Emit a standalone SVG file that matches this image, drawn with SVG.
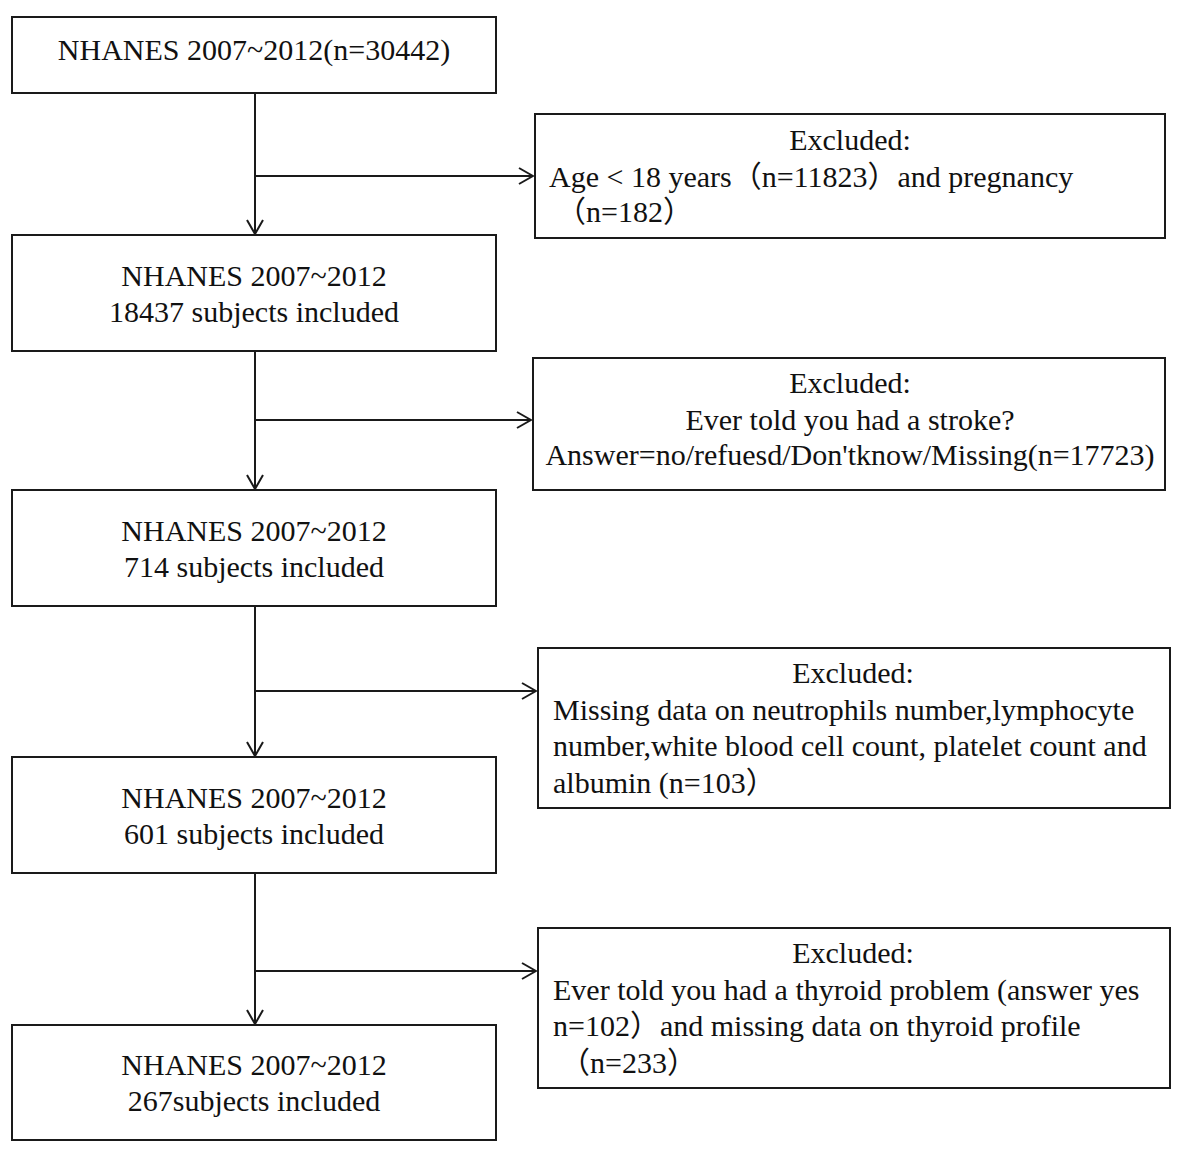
<svg xmlns="http://www.w3.org/2000/svg" width="1181" height="1154" viewBox="0 0 1181 1154">
<style>
.box{fill:#fff;stroke:#1a1a1a;stroke-width:2}
.t{font-family:"Liberation Serif","Noto Sans CJK SC",serif;font-size:30px;fill:#111}
.c{text-anchor:middle}
.ln{stroke:#1a1a1a;stroke-width:2;fill:none}
</style>
<defs>
<marker id="ah" viewBox="0 0 16 18" refX="15" refY="9" markerWidth="16" markerHeight="18" markerUnits="userSpaceOnUse" orient="auto">
<path d="M1,1 L15,9 L1,17" fill="none" stroke="#1a1a1a" stroke-width="2"/>
</marker>
</defs>
<rect width="1181" height="1154" fill="#fff"/>
<g id="connectors">
<line class="ln" x1="255" y1="93" x2="255" y2="234" marker-end="url(#ah)"/>
<line class="ln" x1="255" y1="176" x2="533" y2="176" marker-end="url(#ah)"/>
<line class="ln" x1="255" y1="351" x2="255" y2="489" marker-end="url(#ah)"/>
<line class="ln" x1="255" y1="420" x2="531" y2="420" marker-end="url(#ah)"/>
<line class="ln" x1="255" y1="606" x2="255" y2="756" marker-end="url(#ah)"/>
<line class="ln" x1="255" y1="691" x2="536" y2="691" marker-end="url(#ah)"/>
<line class="ln" x1="255" y1="873" x2="255" y2="1024" marker-end="url(#ah)"/>
<line class="ln" x1="255" y1="971" x2="536" y2="971" marker-end="url(#ah)"/>
</g>
<g id="n1">
<rect class="box" x="12" y="17" width="484" height="76"/>
<text class="t c" x="254" y="60">NHANES 2007~2012(n=30442)</text>
</g>
<g id="e1">
<rect class="box" x="535" y="114" width="630" height="124"/>
<text class="t c" x="850" y="150">Excluded:</text>
<text class="t" x="549" y="187">Age &lt; 18 years（n=11823）and pregnancy</text>
<text class="t" x="556" y="222">（n=182）</text>
</g>
<g id="n2">
<rect class="box" x="12" y="235" width="484" height="116"/>
<text class="t c" x="254" y="286">NHANES 2007~2012</text>
<text class="t c" x="254" y="322">18437 subjects included</text>
</g>
<g id="e2">
<rect class="box" x="533" y="358" width="632" height="132"/>
<text class="t c" x="850" y="393">Excluded:</text>
<text class="t c" x="850" y="430">Ever told you had a stroke?</text>
<text class="t c" x="850" y="465">Answer=no/refuesd/Don'tknow/Missing(n=17723)</text>
</g>
<g id="n3">
<rect class="box" x="12" y="490" width="484" height="116"/>
<text class="t c" x="254" y="541">NHANES 2007~2012</text>
<text class="t c" x="254" y="577">714 subjects included</text>
</g>
<g id="e3">
<rect class="box" x="538" y="648" width="632" height="160"/>
<text class="t c" x="853" y="683">Excluded:</text>
<text class="t" x="553" y="720">Missing data on neutrophils number,lymphocyte</text>
<text class="t" x="553" y="756">number,white blood cell count, platelet count and</text>
<text class="t" x="553" y="793">albumin (n=103）</text>
</g>
<g id="n4">
<rect class="box" x="12" y="757" width="484" height="116"/>
<text class="t c" x="254" y="808">NHANES 2007~2012</text>
<text class="t c" x="254" y="844">601 subjects included</text>
</g>
<g id="e4">
<rect class="box" x="538" y="928" width="632" height="160"/>
<text class="t c" x="853" y="963">Excluded:</text>
<text class="t" x="553" y="1000">Ever told you had a thyroid problem (answer yes</text>
<text class="t" x="553" y="1036">n=102）and missing data on thyroid profile</text>
<text class="t" x="560" y="1073">（n=233）</text>
</g>
<g id="n5">
<rect class="box" x="12" y="1025" width="484" height="115"/>
<text class="t c" x="254" y="1075">NHANES 2007~2012</text>
<text class="t c" x="254" y="1111">267subjects included</text>
</g>
</svg>
